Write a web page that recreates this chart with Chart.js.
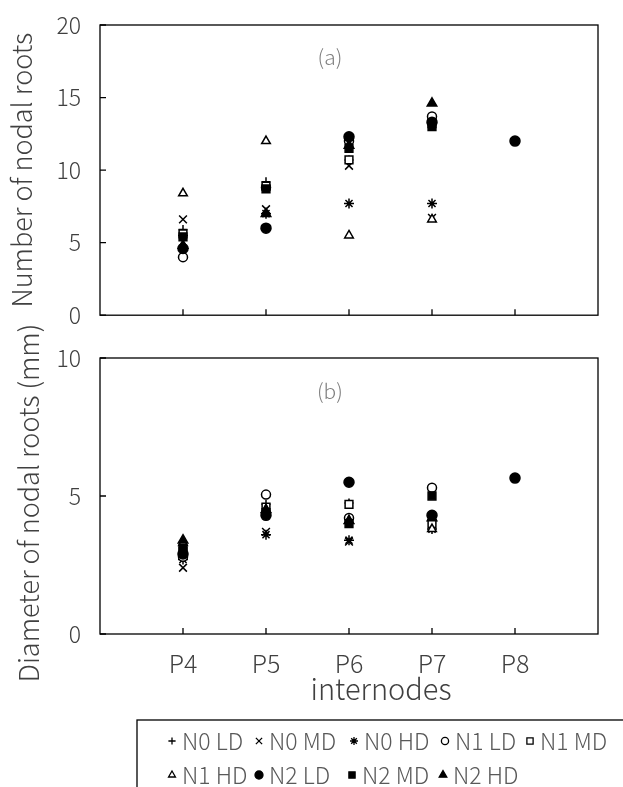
<!DOCTYPE html>
<html>
<head>
<meta charset="utf-8">
<script src="https://cdn.jsdelivr.net/npm/chart.js@4"></script>
<style>
body { margin: 0; background: #fff; width: 623px; height: 787px; overflow: hidden; position: relative; }
canvas { position: absolute; left: 0; }
#chartA { top: 0; }
#chartB { top: 300px; }
</style>
</head>
<body>
<canvas id="chartA" width="623" height="340" style="width:623px;height:340px"></canvas>
<canvas id="chartB" width="623" height="487" style="width:623px;height:487px"></canvas>
<script>
const FONT = "'Noto Sans CJK SC', 'Noto Sans', sans-serif";

const internodes = ['P4', 'P5', 'P6', 'P7', 'P8'];
const seriesNames = ['N0 LD', 'N0 MD', 'N0 HD', 'N1 LD', 'N1 MD', 'N1 HD', 'N2 LD', 'N2 MD', 'N2 HD'];

// (a) number of nodal roots, P4..P8
const rootsN0LD = [5.9, 9.2, 10.7, 13.2, null];
const rootsN0MD = [6.6, 7.3, 10.3, 6.7, null];
const rootsN0HD = [5.5, 7.0, 7.7, 7.7, null];
const rootsN1LD = [4.0, 8.8, 12.0, 13.7, null];
const rootsN1MD = [5.6, 8.9, 10.7, 13.2, null];
const rootsN1HD = [8.4, 12.0, 5.5, 6.6, null];
const rootsN2LD = [4.6, 6.0, 12.3, 13.3, 12.0];
const rootsN2MD = [5.4, 8.7, 11.5, 13.0, null];
const rootsN2HD = [4.8, 7.0, 11.7, 14.6, null];

// (b) diameter of nodal roots (mm), P4..P8
const diamN0LD = [2.9, 4.7, 4.75, 4.1, null];
const diamN0MD = [2.4, 3.7, 3.35, 3.9, null];
const diamN0HD = [2.7, 3.6, 3.4, 3.8, null];
const diamN1LD = [2.8, 5.05, 4.2, 5.3, null];
const diamN1MD = [3.0, 4.6, 4.7, 4.0, null];
const diamN1HD = [3.3, 4.5, 4.1, 3.8, null];
const diamN2LD = [2.9, 4.3, 5.5, 4.3, 5.65];
const diamN2MD = [3.1, 4.4, 4.0, 5.0, null];
const diamN2HD = [3.4, 4.5, 4.1, 4.2, null];

const rootsSeries = [rootsN0LD, rootsN0MD, rootsN0HD, rootsN1LD, rootsN1MD, rootsN1HD, rootsN2LD, rootsN2MD, rootsN2HD];
const diamSeries = [diamN0LD, diamN0MD, diamN0HD, diamN1LD, diamN1MD, diamN1HD, diamN2LD, diamN2MD, diamN2HD];

// marker look per series
const markers = [
  { style: 'cross', fill: '#000', r: 4.5 },
  { style: 'crossRot', fill: '#000', r: 5.5 },
  { style: 'star', fill: '#000', r: 5 },
  { style: 'circle', fill: '#fff', r: 4.5 },
  { style: 'rect', fill: '#fff', r: 5.5 },
  { style: 'triangle', fill: '#fff', r: 5 },
  { style: 'circle', fill: '#000', r: 5 },
  { style: 'rect', fill: '#000', r: 5.5 },
  { style: 'triangle', fill: '#000', r: 5.5 }
];

function makeDatasets(series) {
  return series.map((vals, i) => ({
    label: seriesNames[i],
    data: vals.map((v, j) => (v === null ? null : { x: j + 1, y: v })).filter(p => p),
    pointStyle: markers[i].style,
    pointRadius: markers[i].r,
    pointHoverRadius: markers[i].r,
    borderColor: '#000',
    backgroundColor: markers[i].fill,
    borderWidth: 1.5,
    showLine: false,
    order: 9 - i   // later series on top, like the original
  }));
}

// plot frame, inward tick marks and panel label
const framePlugin = {
  id: 'frame',
  afterDraw(chart, args, opts) {
    const { ctx, chartArea: a, scales: { x, y } } = chart;
    ctx.save();
    ctx.strokeStyle = '#000';
    ctx.lineWidth = 1.3;
    ctx.strokeRect(a.left, a.top, a.right - a.left, a.bottom - a.top);
    ctx.beginPath();
    y.ticks.forEach(t => {
      const py = y.getPixelForValue(t.value);
      ctx.moveTo(a.left, py); ctx.lineTo(a.left + 6, py);
    });
    internodes.forEach((c, i) => {
      const px = x.getPixelForValue(i + 1);
      ctx.moveTo(px, a.bottom); ctx.lineTo(px, a.bottom - 6);
    });
    ctx.stroke();
    ctx.fillStyle = '#7f7f7f';
    ctx.font = '300 21px ' + FONT;
    ctx.textAlign = 'center';
    ctx.textBaseline = 'middle';
    ctx.fillText(opts.label, x.getPixelForValue(2.77), a.top + opts.labelDy);
    ctx.restore();
  }
};

function baseOptions(yMax, label, labelDy) {
  return {
    responsive: false,
    animation: false,
    events: [],
    plugins: { legend: { display: false }, tooltip: { enabled: false }, frame: { label: label, labelDy: labelDy } },
    scales: {
      x: {
        type: 'linear', min: 0, max: 6,
        grid: { display: false },
        border: { display: false },
        ticks: { stepSize: 1, color: '#404040', font: { family: FONT, size: 25, weight: 300 } }
      },
      y: {
        min: 0, max: yMax,
        grid: { display: false },
        border: { display: false },
        afterFit(s) { s.width = 100; },
        ticks: { stepSize: 5, padding: 11, color: '#404040', font: { family: FONT, size: 23, weight: 300 } }
      }
    }
  };
}

// (a)
const optA = baseOptions(20, '(a)', 32);
optA.layout = { padding: { top: 25, right: 25, left: 0, bottom: 0 } };
optA.scales.x.ticks.callback = () => '';
optA.scales.x.afterFit = s => { s.height = 17; };
optA.scales.y.title = { display: true, text: 'Number of nodal roots', color: '#404040', font: { family: FONT, size: 27, weight: 300 }, padding: { top: 6, bottom: 0 } };
new Chart(document.getElementById('chartA'), {
  type: 'scatter',
  data: { datasets: makeDatasets(rootsSeries) },
  options: optA,
  plugins: [framePlugin]
});

// (b) with x title and legend box drawn below
const legendPlugin = {
  id: 'legendBox',
  afterDraw(chart) {
    const ctx = chart.ctx;
    const top = 300;
    ctx.save();
    // axis titles
    ctx.fillStyle = '#404040';
    ctx.font = '300 29px ' + FONT;
    ctx.textAlign = 'center';
    ctx.textBaseline = 'middle';
    ctx.fillText('internodes', 381, 689 - top);
    ctx.save();
    ctx.translate(29, 503 - top);
    ctx.rotate(-Math.PI / 2);
    ctx.font = '300 27px ' + FONT;
    ctx.fillText('Diameter of nodal roots (mm)', 0, 0);
    ctx.restore();
    // legend frame
    ctx.strokeStyle = '#000';
    ctx.lineWidth = 1.3;
    ctx.strokeRect(137, 720 - top, 600, 120);
    const itemX = [172, 259, 354, 445, 530, 172, 259, 352, 443];
    const itemY = [741, 741, 741, 741, 741, 775, 775, 775, 775];
    ctx.font = '300 23px ' + FONT;
    ctx.textAlign = 'left';
    seriesNames.forEach((name, i) => {
      const m = markers[i];
      ctx.fillStyle = m.fill;
      ctx.strokeStyle = '#000';
      ctx.lineWidth = 1.3;
      Chart.helpers.drawPoint(ctx, { pointStyle: m.style, radius: m.r * 0.8, borderWidth: 1.3, rotation: 0 }, itemX[i], itemY[i] - top);
      ctx.fillStyle = '#595959';
      ctx.fillText(name, itemX[i] + 10, itemY[i] - top);
    });
    ctx.restore();
  }
};

const optB = baseOptions(10, '(b)', 33);
optB.layout = { padding: { top: 58, right: 25, left: 0, bottom: 0 } };
optB.scales.x.ticks.callback = v => (v >= 1 && v <= 5 ? internodes[v - 1] : '');
optB.scales.x.ticks.padding = 6;
optB.scales.x.afterFit = s => { s.height = 153; };
new Chart(document.getElementById('chartB'), {
  type: 'scatter',
  data: { datasets: makeDatasets(diamSeries) },
  options: optB,
  plugins: [framePlugin, legendPlugin]
});
</script>
</body>
</html>
